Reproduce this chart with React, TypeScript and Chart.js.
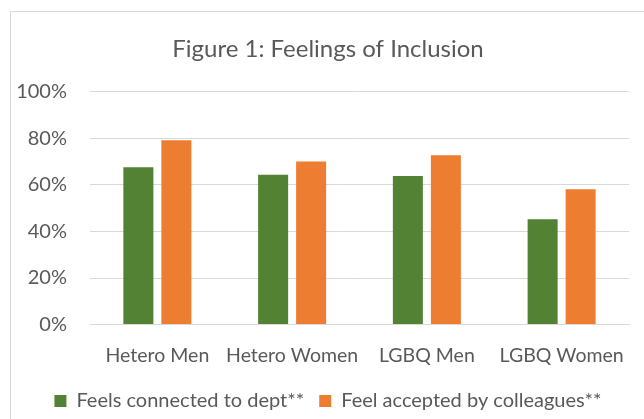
import React, { useEffect, useRef } from "react";
import { Chart, registerables } from "chart.js";

Chart.register(...registerables);

const categories = ["Hetero Men", "Hetero Women", "LGBQ Men", "LGBQ Women"];
const connectedValues = [67.6, 64.4, 63.8, 45.2];
const acceptedValues = [79.2, 70.1, 72.7, 58.1];
const seriesNames = ["Feels connected to dept**", "Feel accepted by colleagues**"];
const titleText = "Figure 1: Feelings of Inclusion";
const yTicks = [0, 20, 40, 60, 80, 100];

const FONT = "Lato, 'Open Sans', sans-serif";
const TEXT = "#595959";

export default function App() {
  const ref = useRef<HTMLCanvasElement | null>(null);

  useEffect(() => {
    if (!ref.current) return;
    const chart = new Chart(ref.current, {
      type: "bar",
      data: {
        labels: categories,
        datasets: [
          {
            label: seriesNames[0],
            data: connectedValues,
            backgroundColor: "#548235",
            borderWidth: 0,
            categoryPercentage: 0.564,
            barPercentage: 0.79,
          },
          {
            label: seriesNames[1],
            data: acceptedValues,
            backgroundColor: "#ED7D31",
            borderWidth: 0,
            categoryPercentage: 0.564,
            barPercentage: 0.79,
          },
        ],
      },
      options: {
        responsive: false,
        animation: false,
        layout: { padding: { left: 10, right: 14, top: 0, bottom: -2 } },
        plugins: {
          title: {
            display: true,
            text: titleText,
            color: TEXT,
            font: { family: FONT, size: 24, weight: "normal" },
            padding: { top: 35, bottom: 28 },
          },
          legend: {
            position: "bottom",
            labels: {
              color: TEXT,
              font: { family: FONT, size: 20 },
              boxWidth: 12,
              boxHeight: 12,
              padding: 15,
            },
          },
          tooltip: { enabled: false },
        },
        scales: {
          x: {
            grid: { display: false },
            border: { display: true, color: "#d9d9d9", width: 1 },
            ticks: {
              color: TEXT,
              font: { family: FONT, size: 19.5 },
              padding: 11,
              maxRotation: 0,
              autoSkip: false,
            },
            afterFit: (scale: any) => {
              scale.height -= 2;
            },
          },
          y: {
            min: 0,
            max: 100,
            afterBuildTicks: (scale: any) => {
              scale.ticks = yTicks.map((v) => ({ value: v }));
            },
            grid: { color: "#d9d9d9", lineWidth: 1, drawTicks: false },
            border: { display: false },
            ticks: {
              color: TEXT,
              font: { family: FONT, size: 20 },
              padding: 23,
              callback: (v: any) => v + "%",
            },
            afterFit: (scale: any) => {
              scale.width = 80;
            },
          },
          y2: {
            position: "right",
            display: true,
            min: 0,
            max: 100,
            grid: { display: false },
            border: { display: false },
            ticks: { display: false },
            afterFit: (scale: any) => {
              scale.width = 17;
            },
          },
        },
      },
    });
    return () => chart.destroy();
  }, []);

  return (
    <div
      style={{
        position: "fixed",
        left: 0,
        top: 0,
        width: 644,
        height: 419,
        overflow: "hidden",
        background: "#fff",
      }}
    >
      <div
        style={{
          position: "absolute",
          left: 10,
          top: 11,
          width: 700,
          height: 500,
          border: "1px solid #d9d9d9",
          boxSizing: "border-box",
        }}
      />
      <canvas
        ref={ref}
        width={660}
        height={419}
        style={{ position: "absolute", left: 0, top: 0, width: 660, height: 419 }}
      />
    </div>
  );
}
